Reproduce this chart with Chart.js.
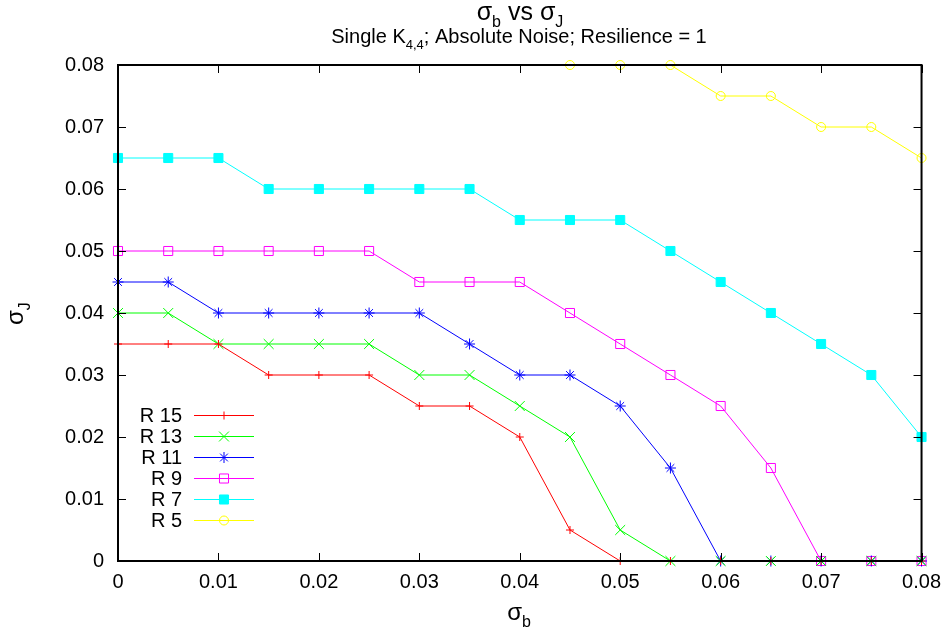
<!DOCTYPE html>
<html>
<head>
<meta charset="utf-8">
<script src="https://cdn.jsdelivr.net/npm/chart.js@4.4.1/dist/chart.umd.min.js"></script>
<style>
  html, body { margin: 0; padding: 0; background: #fff; }
  #wrap { width: 950px; height: 632px; }
</style>
</head>
<body>
<div id="wrap"><canvas id="chart"></canvas></div>
<script>
// sigma_b values (x axis)
const sigmaB = [0, 0.005, 0.01, 0.015, 0.02, 0.025, 0.03, 0.035, 0.04,
  0.045, 0.05, 0.055, 0.06, 0.065, 0.07, 0.075, 0.08];
const ticksX = [0, 0.01, 0.02, 0.03, 0.04, 0.05, 0.06, 0.07, 0.08];
const ticksY = [0, 0.01, 0.02, 0.03, 0.04, 0.05, 0.06, 0.07, 0.08];

const seriesNames = ["R 15", "R 13", "R 11", "R 9", "R 7", "R 5"];
const r15 = [0.035, 0.035, 0.035, 0.03, 0.03, 0.03, 0.025, 0.025, 0.02, 0.005, 0, 0, 0, 0, 0, 0, 0];
const r13 = [0.04, 0.04, 0.035, 0.035, 0.035, 0.035, 0.03, 0.03, 0.025, 0.02, 0.005, 0, 0, 0, 0, 0, 0];
const r11 = [0.045, 0.045, 0.04, 0.04, 0.04, 0.04, 0.04, 0.035, 0.03, 0.03, 0.025, 0.015, 0, 0, 0, 0, 0];
const r9 = [0.05, 0.05, 0.05, 0.05, 0.05, 0.05, 0.045, 0.045, 0.045, 0.04, 0.035, 0.03, 0.025, 0.015, 0, 0, 0];
const r7 = [0.065, 0.065, 0.065, 0.06, 0.06, 0.06, 0.06, 0.06, 0.055, 0.055, 0.055, 0.05, 0.045, 0.04, 0.035, 0.03, 0.02];
const r5 = [null, null, null, null, null, null, null, null, null, 0.08, 0.08, 0.08, 0.075, 0.075, 0.07, 0.07, 0.065];

const colors = ["#ff0000", "#00ff00", "#0000ff", "#ff00ff", "#00ffff", "#ffff00"];
const styles = ["cross", "crossRot", "star", "rect", "rect", "circle"];
const filled = [false, false, false, false, true, false];
const radii = [4, 7, 5.5, 6.4, 6.4, 4.5];

const FONT = "'Liberation Sans', Arial, Helvetica, sans-serif";
const PLOT = { left: 118, right: 922, top: 65, bottom: 561 };

const allSeries = [r15, r13, r11, r9, r7, r5];
const datasets = allSeries.map((vals, i) => ({
  label: seriesNames[i],
  data: sigmaB.map((x, j) => ({ x: x, y: vals[j] })),
  borderColor: colors[i],
  backgroundColor: filled[i] ? colors[i] : "rgba(0,0,0,0)",
  pointBorderColor: colors[i],
  pointBackgroundColor: filled[i] ? colors[i] : "rgba(0,0,0,0)",
  pointStyle: styles[i],
  pointRadius: radii[i],
  pointBorderWidth: 1,
  borderWidth: 1,
  tension: 0,
  spanGaps: false,
  clip: false,
}));

// draw text with subscript parts
function richText(ctx, parts, x, y, size, align) {
  const subSize = Math.round(size * 0.65);
  let w = 0;
  parts.forEach(p => {
    ctx.font = (p.sub ? subSize : size) + "px " + FONT;
    p.w = ctx.measureText(p.t).width;
    w += p.w;
  });
  let cx = align === "center" ? x - w / 2 : x;
  ctx.textAlign = "left";
  ctx.textBaseline = "alphabetic";
  parts.forEach(p => {
    ctx.font = (p.sub ? subSize : size) + "px " + FONT;
    ctx.fillText(p.t, cx, p.sub ? y + size * 0.28 : y);
    cx += p.w;
  });
}

const decorations = {
  id: "decorations",
  afterDatasetsDraw(chart) {
    const ctx = chart.ctx;
    const a = chart.chartArea;
    const xs = chart.scales.x, ys = chart.scales.y;
    ctx.save();
    ctx.strokeStyle = "#000";
    ctx.lineWidth = 1;
    // inward ticks on all four sides
    ticksX.forEach(v => {
      const px = Math.round(xs.getPixelForValue(v)) + 0.5;
      ctx.beginPath();
      ctx.moveTo(px, a.bottom); ctx.lineTo(px, a.bottom - 8);
      ctx.moveTo(px, a.top); ctx.lineTo(px, a.top + 8);
      ctx.stroke();
    });
    ticksY.forEach(v => {
      const py = Math.round(ys.getPixelForValue(v)) + 0.5;
      ctx.beginPath();
      ctx.moveTo(a.left, py); ctx.lineTo(a.left + 8, py);
      ctx.moveTo(a.right, py); ctx.lineTo(a.right - 8, py);
      ctx.stroke();
    });
    // frame
    ctx.lineWidth = 2;
    ctx.strokeRect(a.left, a.top, a.right - a.left, a.bottom - a.top);

    // legend inside plot, bottom left
    seriesNames.forEach((name, i) => {
      const y = 415 + i * 21;
      ctx.fillStyle = "#000";
      ctx.font = "20px " + FONT;
      ctx.textAlign = "right";
      ctx.textBaseline = "middle";
      ctx.fillText(name, 182, y + 1);
      ctx.strokeStyle = colors[i];
      ctx.lineWidth = 1;
      ctx.beginPath();
      ctx.moveTo(194, y + 0.5); ctx.lineTo(254, y + 0.5);
      ctx.stroke();
      ctx.fillStyle = filled[i] ? colors[i] : "rgba(0,0,0,0)";
      Chart.helpers.drawPoint(ctx, {
        pointStyle: styles[i], radius: radii[i], rotation: 0, borderWidth: 1
      }, 224, y + 0.5);
      if (i === 3) {
        ctx.fillStyle = colors[i];
        ctx.fillRect(223.5, y, 1, 1);
      }
    });

    // titles
    ctx.fillStyle = "#000";
    richText(ctx, [{ t: "σ" }, { t: "b", sub: true }, { t: " vs σ" }, { t: "J", sub: true }],
      520, 20, 25, "center");
    richText(ctx, [{ t: "Single K" }, { t: "4,4", sub: true }, { t: "; Absolute Noise; Resilience = 1" }],
      519, 43, 20, "center");
    // axis titles
    richText(ctx, [{ t: "σ" }, { t: "b", sub: true }], 519, 620, 24, "center");
    ctx.save();
    ctx.translate(23, 325);
    ctx.rotate(-Math.PI / 2);
    richText(ctx, [{ t: "σ" }, { t: "J", sub: true }], 0, 0, 24, "left");
    ctx.restore();
    ctx.restore();
  }
};

const fmt = v => (Math.abs(v) < 1e-9 ? "0" : (Math.round(v * 100) / 100).toString());

new Chart(document.getElementById("chart"), {
  type: "line",
  data: { datasets: datasets },
  options: {
    responsive: true,
    maintainAspectRatio: false,
    animation: false,
    layout: { padding: { top: PLOT.top, right: 950 - PLOT.right, left: 0, bottom: 0 } },
    plugins: {
      legend: { display: false },
      title: { display: false },
      tooltip: { enabled: false },
    },
    scales: {
      x: {
        type: "linear",
        min: 0, max: 0.08,
        afterFit(s) { s.height = 632 - PLOT.bottom; },
        afterBuildTicks(s) { s.ticks = ticksX.map(v => ({ value: v })); },
        grid: { display: false, drawTicks: false },
        border: { display: false },
        ticks: { color: "#000", font: { size: 20, family: FONT }, padding: 9, maxRotation: 0, callback: fmt },
      },
      y: {
        type: "linear",
        min: 0, max: 0.08,
        afterFit(s) { s.width = PLOT.left; },
        afterBuildTicks(s) { s.ticks = ticksY.map(v => ({ value: v })); },
        grid: { display: false, drawTicks: false },
        border: { display: false },
        ticks: { color: "#000", font: { size: 20, family: FONT }, padding: 14, callback: fmt },
      },
    },
  },
  plugins: [decorations],
});
</script>
</body>
</html>
